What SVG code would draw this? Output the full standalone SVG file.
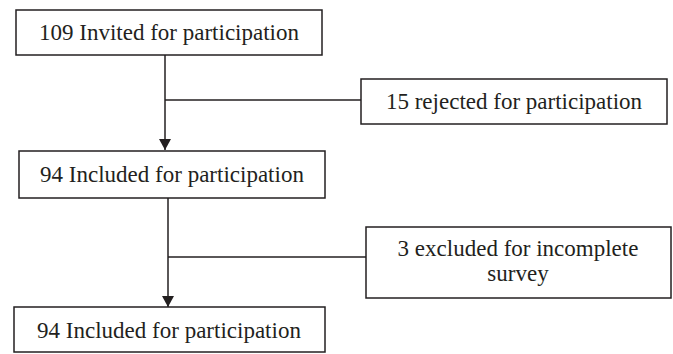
<svg xmlns="http://www.w3.org/2000/svg" width="673" height="354" viewBox="0 0 673 354">
<style>
.box{fill:#fff;stroke:#231f20;stroke-width:1.5}
.t{font-family:"Liberation Serif","Times New Roman",serif;font-size:23px;fill:#231f20;text-anchor:middle}
.ln{stroke:#231f20;stroke-width:1.5;fill:none}
</style>
<defs>
<marker id="ah" markerWidth="11" markerHeight="12" refX="11" refY="6" orient="auto" markerUnits="userSpaceOnUse">
<path d="M0,0 L11,6 L0,12 Z" fill="#231f20"/>
</marker>
</defs>
<rect width="673" height="354" fill="#fff"/>
<g id="connectors">
<line class="ln" x1="165" y1="55" x2="165" y2="150" marker-end="url(#ah)"/>
<line class="ln" x1="165" y1="100" x2="361" y2="100"/>
<line class="ln" x1="168" y1="198" x2="168" y2="307" marker-end="url(#ah)"/>
<line class="ln" x1="168" y1="257" x2="366" y2="257"/>
</g>
<g id="invited">
<rect class="box" x="16" y="10" width="306" height="45"/>
<text class="t" x="169" y="40">109 Invited for participation</text>
</g>
<g id="rejected">
<rect class="box" x="361" y="79" width="306" height="45"/>
<text class="t" x="514" y="109">15 rejected for participation</text>
</g>
<g id="included1">
<rect class="box" x="19" y="151" width="306" height="47"/>
<text class="t" x="172" y="182">94 Included for participation</text>
</g>
<g id="excluded">
<rect class="box" x="366" y="227" width="305" height="71"/>
<text class="t" x="518" y="256">3 excluded for incomplete</text>
<text class="t" x="518" y="281">survey</text>
</g>
<g id="included2">
<rect class="box" x="14" y="307" width="311" height="45"/>
<text class="t" x="169" y="338">94 Included for participation</text>
</g>
</svg>
